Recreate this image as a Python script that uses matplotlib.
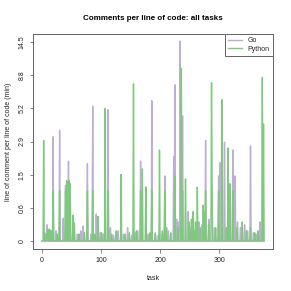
import numpy as np
import matplotlib
matplotlib.use("Agg")
import matplotlib.pyplot as plt

plt.rcParams['font.family'] = ['Liberation Sans', 'DejaVu Sans']

n_tasks = 377

# sparse readings: task index -> comments per line of code (min)
go_task = [5, 9, 12, 19, 24, 30, 36, 40, 45, 52, 60, 66, 70, 77, 83, 86, 92, 95, 99,
           104, 112, 116, 121, 125, 129, 138, 145, 152, 158, 162, 167, 176, 180, 186,
           192, 197, 203, 208, 214, 223, 225, 228, 231, 234, 238, 247, 252, 259, 266,
           271, 277, 283, 292, 299, 301, 309, 316, 323, 327, 331, 336, 343, 348, 353,
           358, 362, 369]
go_val = [0.12, 0.25, 0.1, 3.2, 0.15, 3.6, 0.37, 1.15, 2.0, 0.12, 0.1, 0.15, 0.23, 1.9,
          0.1, 5.4, 0.45, 0.4, 0.12, 0.1, 5.1, 0.2, 0.08, 0.12, 0.15, 0.1, 0.2, 0.08,
          0.12, 0.15, 2.0, 1.1, 0.1, 5.9, 0.12, 0.08, 0.1, 1.45, 0.15, 2.2, 7.6, 0.35,
          0.3, 14.7, 4.6, 0.5, 0.2, 0.15, 0.3, 0.25, 3.0, 0.35, 0.2, 1.45, 1.95, 2.9,
          0.2, 2.5, 1.45, 0.3, 0.2, 0.25, 0.15, 2.7, 0.12, 0.1, 0.3]

py_task = [3, 8, 10, 12, 15, 19, 26, 30, 40, 42, 44, 46, 48, 53, 55, 63, 72, 77, 86,
           90, 95, 101, 107, 112, 118, 126, 134, 141, 148, 155, 160, 167, 170, 176,
           183, 186, 192, 199, 204, 208, 211, 218, 225, 230, 236, 238, 243, 249, 253,
           256, 260, 263, 268, 273, 275, 277, 282, 287, 288, 294, 299, 305, 312, 315,
           318, 323, 330, 339, 346, 353, 360, 366, 373, 375]
py_val = [3.0, 0.1, 0.16, 0.18, 0.16, 1.0, 0.1, 1.0, 1.0, 1.3, 1.25, 1.3, 1.2, 0.43,
          0.28, 0.1, 0.12, 1.0, 1.0, 0.1, 0.4, 0.12, 5.2, 1.0, 0.1, 0.15, 1.5, 0.1,
          0.12, 7.7, 0.15, 1.0, 1.7, 1.1, 0.12, 1.0, 0.1, 2.5, 0.15, 1.0, 0.2, 0.12,
          1.45, 0.2, 9.8, 1.0, 1.35, 0.3, 0.35, 0.5, 0.3, 1.1, 0.2, 0.64, 0.5, 1.0,
          0.25, 7.85, 1.2, 0.2, 1.0, 6.0, 0.2, 2.6, 1.2, 1.0, 0.2, 0.3, 0.15, 0.2,
          0.12, 0.15, 8.5, 4.0]

tick_labels = ["0", "0.6", "1.5", "2.9", "5.2", "8.8", "14.5"]

go = np.zeros(n_tasks)
go[go_task] = go_val
py = np.zeros(n_tasks)
py[py_task] = py_val
tasks = np.arange(n_tasks)

fig = plt.figure(figsize=(291 / 72, 291 / 72), dpi=72)
ax = fig.add_axes([33 / 291, 1 - 249 / 291, 240 / 291, 215 / 291])

ax.plot(tasks, np.log1p(go), color="#BEAED4", lw=1.4, label="Go")
ax.plot(tasks, np.log1p(py), color="#7FC97F", lw=1.4, label="Python")

top = np.log(15.5)
ax.set_yticks(np.linspace(0, top, 7))
ax.set_yticklabels(tick_labels, rotation=90, va="center")
ax.set_ylim(-0.04 * top, top * 1.04)
ax.set_xlim(-0.04 * (n_tasks - 1), (n_tasks - 1) * 1.04)
ax.set_xticks([0, 100, 200, 300])

for s in ax.spines.values():
    s.set_color("#666666")
    s.set_linewidth(1)
ax.tick_params(direction="out", length=3.5, width=0.8, color="#666666",
               labelsize=7, pad=4, labelcolor="#222222")

ax.set_xlabel("task", fontsize=7, labelpad=11, color="#222222")
ax.set_ylabel("line of comment per line of code (min)", fontsize=7,
              labelpad=6, color="#222222")
ax.set_title("Comments per line of code: all tasks", fontsize=8,
             fontweight="bold", pad=14)

leg = ax.legend(loc="upper right", fontsize=7, fancybox=False,
                edgecolor="#666666", framealpha=1, borderaxespad=0,
                handlelength=2.0, borderpad=0.45, labelspacing=0.25)
leg.get_frame().set_linewidth(1)
for t in leg.get_texts():
    t.set_color("#222222")

fig.savefig("out.png", dpi=72)
